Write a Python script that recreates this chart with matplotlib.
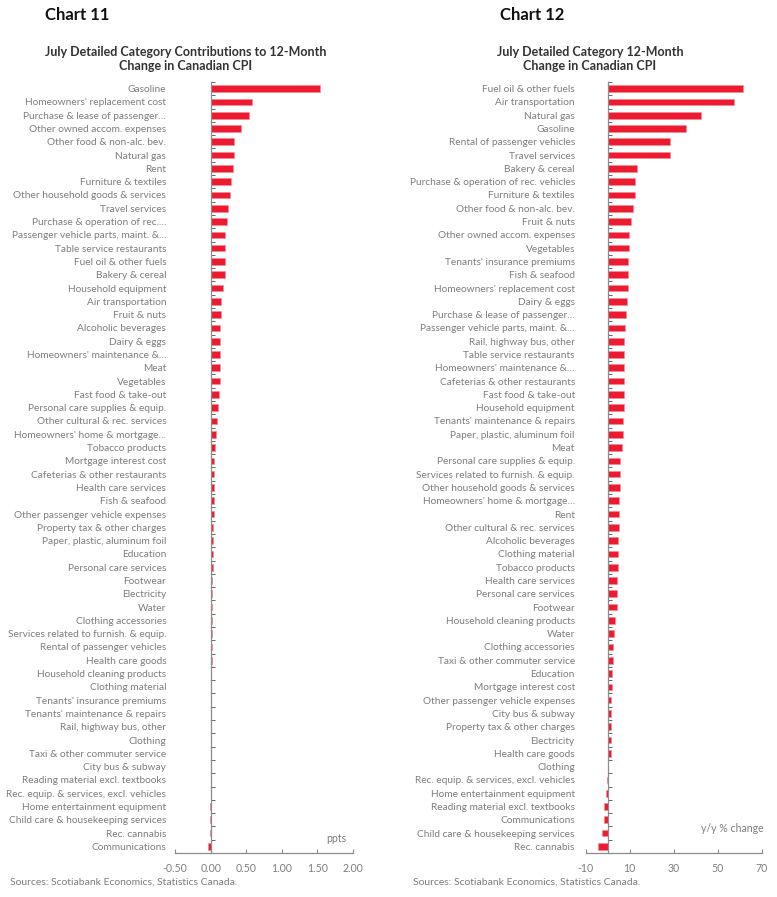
import numpy as np
import matplotlib
matplotlib.use("Agg")
import matplotlib.pyplot as plt

plt.rcParams['font.family'] = ['Lato', 'DejaVu Sans']

# Chart 11: contributions to 12-month change (ppts)
left_labels = [
    "Gasoline", "Homeowners' replacement cost", "Purchase & lease of passenger…",
    "Other owned accom. expenses", "Other food & non-alc. bev.", "Natural gas", "Rent",
    "Furniture & textiles", "Other household goods & services", "Travel services",
    "Purchase & operation of rec.…", "Passenger vehicle parts, maint. &…",
    "Table service restaurants", "Fuel oil & other fuels", "Bakery & cereal",
    "Household equipment", "Air transportation", "Fruit & nuts", "Alcoholic beverages",
    "Dairy & eggs", "Homeowners' maintenance &…", "Meat", "Vegetables",
    "Fast food & take-out", "Personal care supplies & equip.",
    "Other cultural & rec. services", "Homeowners' home & mortgage…", "Tobacco products",
    "Mortgage interest cost", "Cafeterias & other restaurants", "Health care services",
    "Fish & seafood", "Other passenger vehicle expenses", "Property tax & other charges",
    "Paper, plastic, aluminum foil", "Education", "Personal care services", "Footwear",
    "Electricity", "Water", "Clothing accessories", "Services related to furnish. & equip.",
    "Rental of passenger vehicles", "Health care goods", "Household cleaning products",
    "Clothing material", "Tenants' insurance premiums", "Tenants' maintenance & repairs",
    "Rail, highway bus, other", "Clothing", "Taxi & other commuter service",
    "City bus & subway", "Reading material excl. textbooks",
    "Rec. equip. & services, excl. vehicles", "Home entertainment equipment",
    "Child care & housekeeping services", "Rec. cannabis", "Communications",
]
left_values = [
    1.53, 0.585, 0.54, 0.43, 0.33, 0.33, 0.32, 0.28, 0.27, 0.245,
    0.225, 0.20, 0.197, 0.197, 0.197, 0.17, 0.145, 0.14, 0.136, 0.136,
    0.134, 0.131, 0.13, 0.112, 0.098, 0.084, 0.07, 0.061, 0.051, 0.047,
    0.042, 0.042, 0.042, 0.037, 0.033, 0.028, 0.028, 0.023, 0.023, 0.019,
    0.019, 0.014, 0.014, 0.013, 0.01, 0.01, 0.008, 0.006, 0.005, 0.003,
    0.002, 0.001, 0.0, -0.001, -0.003, -0.008, -0.015, -0.04,
]
left_ticks = [-0.5, 0.0, 0.5, 1.0, 1.5, 2.0]

# Chart 12: 12-month change (y/y %)
right_labels = [
    "Fuel oil & other fuels", "Air transportation", "Natural gas", "Gasoline",
    "Rental of passenger vehicles", "Travel services", "Bakery & cereal",
    "Purchase & operation of rec. vehicles", "Furniture & textiles",
    "Other food & non-alc. bev.", "Fruit & nuts", "Other owned accom. expenses",
    "Vegetables", "Tenants' insurance premiums", "Fish & seafood",
    "Homeowners' replacement cost", "Dairy & eggs", "Purchase & lease of passenger…",
    "Passenger vehicle parts, maint. &…", "Rail, highway bus, other",
    "Table service restaurants", "Homeowners' maintenance &…",
    "Cafeterias & other restaurants", "Fast food & take-out", "Household equipment",
    "Tenants' maintenance & repairs", "Paper, plastic, aluminum foil", "Meat",
    "Personal care supplies & equip.", "Services related to furnish. & equip.",
    "Other household goods & services", "Homeowners' home & mortgage…", "Rent",
    "Other cultural & rec. services", "Alcoholic beverages", "Clothing material",
    "Tobacco products", "Health care services", "Personal care services", "Footwear",
    "Household cleaning products", "Water", "Clothing accessories",
    "Taxi & other commuter service", "Education", "Mortgage interest cost",
    "Other passenger vehicle expenses", "City bus & subway",
    "Property tax & other charges", "Electricity", "Health care goods", "Clothing",
    "Rec. equip. & services, excl. vehicles", "Home entertainment equipment",
    "Reading material excl. textbooks", "Communications",
    "Child care & housekeeping services", "Rec. cannabis",
]
right_values = [
    61.5, 57.7, 42.6, 35.8, 28.6, 28.5, 13.2, 12.7, 12.3, 11.5,
    10.5, 9.8, 9.7, 9.4, 9.2, 9.1, 8.9, 8.2, 7.9, 7.6,
    7.4, 7.4, 7.4, 7.3, 7.3, 7.2, 7.0, 6.4, 5.9, 5.6,
    5.5, 5.4, 5.0, 5.0, 4.9, 4.8, 4.7, 4.5, 4.5, 4.1,
    3.6, 2.9, 2.7, 2.5, 2.2, 1.9, 1.7, 1.6, 1.5, 1.4,
    1.4, 0.1, -0.2, -0.8, -1.4, -1.6, -2.4, -4.4,
]
right_ticks = [-10, 10, 30, 50, 70]

red = "#ED1B2F"
grey_txt = "#7d7d7d"
axis_col = "#8c8c8c"


def draw_panel(ax, labels, values, xlim, xticks, fmt, pad, unit, unit_x, unit_y):
    n = len(labels)
    pos = np.arange(n)
    ax.barh(pos, values, height=0.5, color=red, edgecolor="#f48a95", linewidth=0.4)
    ax.set_ylim(n - 0.5, -0.5)
    ax.set_xlim(*xlim)
    for s in ["top", "right"]:
        ax.spines[s].set_visible(False)
    ax.spines["left"].set_position(("data", 0))
    ax.spines["left"].set_color(axis_col)
    ax.spines["bottom"].set_color(axis_col)
    ax.spines["left"].set_linewidth(0.9)
    ax.spines["bottom"].set_linewidth(0.9)
    ax.set_yticks(pos)
    ax.set_yticklabels(labels, fontsize=7.3, color=grey_txt)
    ax.set_yticks(np.arange(n + 1) - 0.5, minor=True)
    ax.tick_params(axis="y", which="major", length=0, pad=pad)
    ax.tick_params(axis="y", which="minor", length=3, direction="in",
                   color="#666666", width=0.7)
    ax.set_xticks(xticks)
    ax.set_xticklabels([fmt.format(t) for t in xticks], fontsize=7.6, color=grey_txt)
    ax.tick_params(axis="x", length=3, direction="in", color=axis_col, width=0.8, pad=7)
    ax.text(unit_x, unit_y, unit, transform=ax.transAxes, ha="right", va="bottom",
            fontsize=7.6, color=grey_txt)


fig = plt.figure(figsize=(7.77, 8.97), dpi=100)

ax1 = fig.add_axes([175 / 777, 1 - 853 / 897, 178 / 777, 771 / 897])
draw_panel(ax1, left_labels, left_values, (-0.5, 2.0), left_ticks, "{:.2f}", 32,
           "ppts", 0.96, 0.012)

ax2 = fig.add_axes([585.5 / 777, 1 - 853 / 897, 176 / 777, 771 / 897])
draw_panel(ax2, right_labels, right_values, (-10, 70), right_ticks, "{:.0f}", 23.5,
           "y/y % change", 1.01, 0.025)

fig.text(45 / 777, 1 - 15 / 897, "Chart 11", fontsize=12, fontweight="bold",
         ha="left", va="center", color="#111111")
fig.text(500 / 777, 1 - 15 / 897, "Chart 12", fontsize=12, fontweight="bold",
         ha="left", va="center", color="#111111")
fig.text(186 / 777, 1 - 59 / 897,
         "July Detailed Category Contributions to 12-Month\nChange in Canadian CPI",
         fontsize=9, fontweight="bold", ha="center", va="center", color="#333333",
         linespacing=1.3)
fig.text(590 / 777, 1 - 59 / 897,
         "July Detailed Category 12-Month\nChange in Canadian CPI",
         fontsize=9, fontweight="bold", ha="center", va="center", color="#333333",
         linespacing=1.3)
fig.text(10 / 777, 1 - 882 / 897, "Sources: Scotiabank Economics, Statistics Canada.",
         fontsize=7.5, color=grey_txt, ha="left", va="center")
fig.text(413 / 777, 1 - 882 / 897, "Sources: Scotiabank Economics, Statistics Canada.",
         fontsize=7.5, color=grey_txt, ha="left", va="center")

fig.savefig("out.png", dpi=100)
